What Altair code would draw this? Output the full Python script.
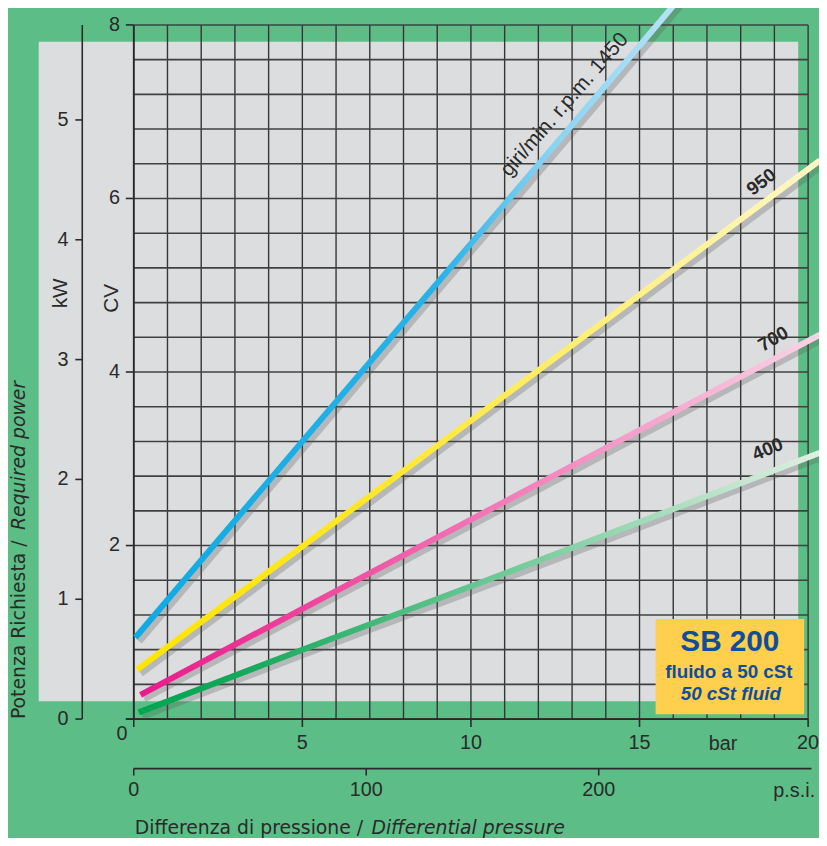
import altair as alt
import pandas as pd

# ---------------- data ----------------
bars_1450 = [0.05, 5, 10, 15, 16.5]
cv_1450 = [0.94, 3.20, 5.48, 7.76, 8.45]
bars_950 = [0.1, 5, 10, 15, 20.35]
cv_950 = [0.57, 1.99, 3.44, 4.89, 6.44]
bars_700 = [0.2, 5, 10, 15, 20.35]
cv_700 = [0.28, 1.27, 2.30, 3.33, 4.43]
bars_400 = [0.15, 5, 10, 15, 20.35]
cv_400 = [0.077, 0.80, 1.53, 2.27, 3.07]

label_text = ["giri/min. r.p.m. 1450", "950", "700", "400"]
label_bar = [12.78, 18.62, 18.97, 18.80]
label_cv = [7.08, 6.19, 4.38, 3.11]
label_angle = [311, 322, 330, 337]
label_size = [21, 19, 19, 19]
label_weight = ["normal", "bold", "bold", "bold"]

grid_bar = list(range(0, 21))
grid_cv = [round(0.4 * i, 1) for i in range(21)]

bar_ticks = [0, 5, 10, 15, 20]
bar_labels = [5, 10, 15, 20]
cv_ticks = [0, 2, 4, 6, 8]
cv_labels = [2, 4, 6, 8]
kw_ticks = [0, 1, 2, 3, 4, 5]
psi_ticks = [0, 100, 200]

W, H = 681, 701
BAR_MAX = 20
CV_MAX = 8
KW_TO_CV = 1.381          # scale ratio of the kW axis to the CV axis as printed
PSI_PER_BAR = 14.5038

BG = "#5CBE86"
PANEL = "#DCDDDF"
INK = "#2a2a2a"
FONT = "Liberation Sans, Arial, sans-serif"
TFONT = "DejaVu Sans, sans-serif"

xs = alt.Scale(domain=[0, BAR_MAX], nice=False, zero=False)
ys = alt.Scale(domain=[0, CV_MAX], nice=False, zero=False)


def X(f):
    return alt.X(f, type="quantitative", scale=xs, axis=None)


def Y(f):
    return alt.Y(f, type="quantitative", scale=ys, axis=None)


one = pd.DataFrame({"a": [0]})

# gray panel
panel = alt.Chart(one).mark_rect(color=PANEL).encode(
    x=alt.value(-96), x2=alt.value(671), y=alt.value(17), y2=alt.value(683)
)

# grid
vgrid = alt.Chart(pd.DataFrame({"b": grid_bar, "c0": 0, "c1": CV_MAX})).mark_rule(
    color="#353535", strokeWidth=1.4
).encode(x=X("b"), y=Y("c0"), y2="c1:Q")
hgrid = alt.Chart(pd.DataFrame({"c": grid_cv, "b0": 0, "b1": BAR_MAX})).mark_rule(
    color="#404040", strokeWidth=1.6
).encode(x=X("b0"), x2="b1:Q", y=Y("c"))

# main bar axis
bar_domain = alt.Chart(pd.DataFrame({"c": [0]})).mark_rule(color=INK, strokeWidth=1.8).encode(
    x=alt.value(-8), x2=alt.value(W), y=Y("c"))
bar_tick = alt.Chart(pd.DataFrame({"b": bar_ticks})).mark_rule(color=INK, strokeWidth=1.6).encode(
    x=X("b"), y=alt.value(H), y2=alt.value(H + 8))
bar_lab = alt.Chart(pd.DataFrame({"b": bar_labels})).mark_text(
    font=FONT, fontSize=20, color=INK, baseline="middle", align="center"
).encode(x=X("b"), y=alt.value(725), text="b:Q")

# main CV axis
cv_domain = alt.Chart(pd.DataFrame({"b": [0], "c0": [0], "c1": [CV_MAX]})).mark_rule(
    color=INK, strokeWidth=1.8).encode(x=X("b"), y=Y("c0"), y2="c1:Q")
cv_tick = alt.Chart(pd.DataFrame({"c": cv_ticks})).mark_rule(color=INK, strokeWidth=1.6).encode(
    x=alt.value(-8), x2=alt.value(0), y=Y("c"))
cv_lab = alt.Chart(pd.DataFrame({"c": cv_labels})).mark_text(
    font=FONT, fontSize=20, color=INK, baseline="middle", align="right"
).encode(x=alt.value(-14), y=Y("c"), text="c:Q")

# secondary kW axis (drawn through the CV scale)
kw_df = pd.DataFrame({"kw": kw_ticks})
kw_domain = alt.Chart(pd.DataFrame({"c0": [0], "c1": [CV_MAX]})).mark_rule(
    color=INK, strokeWidth=1.6
).encode(x=alt.value(-52), y=Y("c0"), y2="c1:Q")
kw_tick = alt.Chart(kw_df).transform_calculate(cv=f"datum.kw * {KW_TO_CV}").mark_rule(
    color=INK, strokeWidth=1.6
).encode(x=alt.value(-59), x2=alt.value(-52), y=Y("cv"))
kw_lab = alt.Chart(kw_df).transform_calculate(cv=f"datum.kw * {KW_TO_CV}").mark_text(
    font=FONT, fontSize=20, color=INK, align="right", baseline="middle"
).encode(x=alt.value(-66), y=Y("cv"), text="kw:Q")

# secondary psi axis (drawn through the bar scale)
psi_df = pd.DataFrame({"psi": psi_ticks})
psi_domain = alt.Chart(pd.DataFrame({"b0": [0], "b1": [20.1]})).mark_rule(
    color=INK, strokeWidth=1.6
).encode(x=X("b0"), x2="b1:Q", y=alt.value(751))
psi_tick = alt.Chart(psi_df).transform_calculate(b=f"datum.psi / {PSI_PER_BAR}").mark_rule(
    color=INK, strokeWidth=1.6
).encode(x=X("b"), y=alt.value(751), y2=alt.value(758))
psi_lab = alt.Chart(psi_df).transform_calculate(b=f"datum.psi / {PSI_PER_BAR}").mark_text(
    font=FONT, fontSize=20, color=INK, align="center", baseline="middle"
).encode(x=X("b"), y=alt.value(773), text="psi:Q")


def line_layers(bars, cvs, stops):
    df = pd.DataFrame({"bar": bars, "cv": cvs})
    shadow = alt.Chart(df).transform_calculate(
        sb="datum.bar + 0.1", sc="datum.cv - 0.04"
    ).mark_line(color="#555555", opacity=0.28, strokeWidth=8).encode(x=X("sb"), y=Y("sc"))
    grad = alt.LinearGradient(
        gradient="linear",
        stops=[alt.GradientStop(color=c, offset=o) for o, c in stops],
        x1=0, x2=1, y1=1, y2=1,
    )
    line = alt.Chart(df).mark_line(color=grad, strokeWidth=6).encode(x=X("bar"), y=Y("cv"))
    return [shadow, line]


lines = []
lines += line_layers(bars_400, cv_400, [(0, "#00A651"), (0.15, "#14A95A"), (1, "#DFF0E2")])
lines += line_layers(bars_700, cv_700, [(0, "#EA1A8C"), (0.2, "#EE3C98"), (1, "#F9D4E5")])
lines += line_layers(bars_950, cv_950, [(0, "#FFE500"), (0.35, "#FFE72A"), (1, "#FFF7C8")])
lines += line_layers(bars_1450, cv_1450, [(0, "#0FAAE3"), (0.55, "#28B3E8"), (0.75, "#8AD3F2"), (1, "#BBE4F6")])

labels_df = pd.DataFrame({"t": label_text, "bar": label_bar, "cv": label_cv,
                          "ang": label_angle, "s": label_size, "w": label_weight})
line_labels = []
for w in ["normal", "bold"]:
    line_labels.append(
        alt.Chart(labels_df).transform_filter(f"datum.w == '{w}'").mark_text(
            font=FONT, fontWeight=w, color=INK, baseline="middle", align="center"
        ).encode(
            x=X("bar"), y=Y("cv"), text="t:N",
            angle=alt.Angle("ang:Q", scale=None), size=alt.Size("s:Q", scale=None),
        )
    )


def txt(s, x, y, size=20, font=FONT, weight="normal", style="normal",
        align="center", angle=0, color=INK, baseline="middle"):
    return alt.Chart(one).mark_text(
        text=s, font=font, fontSize=size, fontWeight=weight, fontStyle=style,
        align=align, angle=angle, color=color, baseline=baseline
    ).encode(x=alt.value(x), y=alt.value(y))


texts = [
    txt("0", -12, 716),
    txt("bar", 595, 726),
    txt("p.s.i.", 667, 774),
    txt("kW", -73, 271, size=21, angle=270),
    txt("CV", -22, 276, size=21, angle=270),
    txt("Differenza di pressione / ", 1, 811, size=19, font=TFONT, align="left"),
    txt("Differential pressure", 240, 811, size=19, font=TFONT, style="italic", align="left"),
    txt("Potenza Richiesta / ", -116, 701, size=19, font=TFONT, align="left", angle=270),
    txt("Required power", -116, 510, size=19, font=TFONT, style="italic", align="left", angle=270),
]

box = alt.Chart(one).mark_rect(color="#FFCF4D").encode(
    x=alt.value(527), x2=alt.value(677), y=alt.value(600), y2=alt.value(696)
)
BLUE = "#0E4E9C"
NFONT = "Liberation Sans Narrow, Liberation Sans, Arial, sans-serif"
box_texts = [
    txt("SB 200", 602, 623, size=30, font=NFONT, weight="bold", color=BLUE),
    txt("fluido a 50 cSt", 601, 654, size=19, font=NFONT, weight="bold", color=BLUE),
    txt("50 cSt fluid", 603, 676, size=19, font=NFONT, weight="bold", style="italic", color=BLUE),
]

chart = alt.layer(
    panel, vgrid, hgrid,
    bar_domain, bar_tick, bar_lab, cv_domain, cv_tick, cv_lab,
    kw_domain, kw_tick, kw_lab, psi_domain, psi_tick, psi_lab,
    *lines, *line_labels, *texts, box, *box_texts,
).properties(
    width=W, height=H, background=BG,
    padding={"left": 127, "top": 13, "right": 11, "bottom": 116},
    autosize=alt.AutoSizeParams(type="none"),
).configure_view(stroke=None)

chart.save("out.html", embed_options={"renderer": "svg", "actions": False})
